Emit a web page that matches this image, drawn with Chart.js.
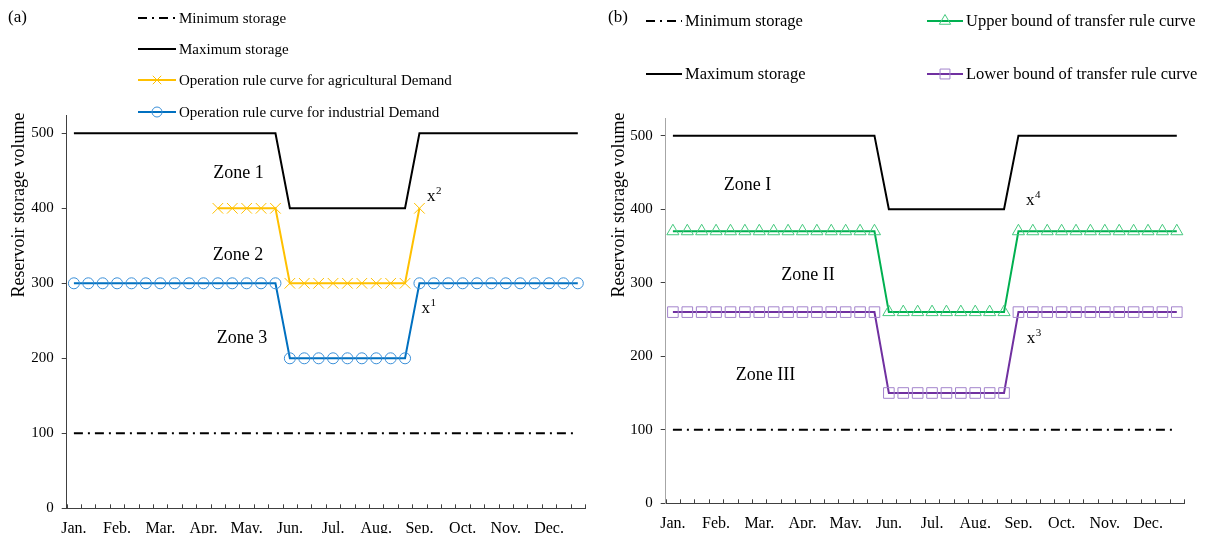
<!DOCTYPE html>
<html><head><meta charset="utf-8">
<script src="https://cdn.jsdelivr.net/npm/chart.js@4.4.0/dist/chart.umd.min.js"></script>
<style>
html,body{margin:0;padding:0;background:#fff;width:1210px;height:539px;overflow:hidden}
#wa{position:absolute;left:0;top:0;width:605px;height:539px}
#wb{position:absolute;left:605px;top:0;width:605px;height:539px}
canvas{display:block}
</style></head><body>
<div id="wa"><canvas id="ca" width="605" height="539"></canvas></div>
<div id="wb"><canvas id="cb" width="605" height="539"></canvas></div>
<script>
// ---- Data ----
const monthLabels = ['Jan.','Feb.','Mar.','Apr.','May.','Jun.','Jul.','Aug.','Sep.','Oct.','Nov.','Dec.'];
const decades = ['1','2','3'];
const categories = [];
monthLabels.forEach(m => decades.forEach(d => categories.push(m + ' ' + d)));
const yTickValues = [0,100,200,300,400,500];

const minStorage   = [100,100,100,100,100,100,100,100,100,100,100,100,100,100,100,100,100,100,100,100,100,100,100,100,100,100,100,100,100,100,100,100,100,100,100,100];
const maxStorage   = [500,500,500,500,500,500,500,500,500,500,500,500,500,500,500,400,400,400,400,400,400,400,400,400,500,500,500,500,500,500,500,500,500,500,500,500];
const agricultural = [null,null,null,null,null,null,null,null,null,null,400,400,400,400,400,300,300,300,300,300,300,300,300,300,400,null,null,null,null,null,null,null,null,null,null,null];
const industrial   = [300,300,300,300,300,300,300,300,300,300,300,300,300,300,300,200,200,200,200,200,200,200,200,200,300,300,300,300,300,300,300,300,300,300,300,300];
const upperBound   = [370,370,370,370,370,370,370,370,370,370,370,370,370,370,370,260,260,260,260,260,260,260,260,260,370,370,370,370,370,370,370,370,370,370,370,370];
const lowerBound   = [260,260,260,260,260,260,260,260,260,260,260,260,260,260,260,150,150,150,150,150,150,150,150,150,260,260,260,260,260,260,260,260,260,260,260,260];

const FONT = 'Liberation Serif';
Chart.defaults.font.family = FONT;
Chart.defaults.color = '#000';

const DASHDOT = [9,5,2,5];

function drawMarker(ctx, style, x, y, r, color) {
  ctx.save();
  ctx.strokeStyle = color; ctx.lineWidth = 1; ctx.setLineDash([]);
  ctx.beginPath();
  if (style === 'circle') { ctx.arc(x, y, r, 0, Math.PI*2); }
  else if (style === 'crossRot') { const s = r*Math.SQRT1_2; ctx.moveTo(x-s,y-s); ctx.lineTo(x+s,y+s); ctx.moveTo(x+s,y-s); ctx.lineTo(x-s,y+s); }
  else if (style === 'triangle') { ctx.moveTo(x, y-r); ctx.lineTo(x+0.866*r, y+r/2); ctx.lineTo(x-0.866*r, y+r/2); ctx.closePath(); }
  else if (style === 'rect') { const s = r*Math.SQRT1_2; ctx.rect(x-s, y-s, 2*s, 2*s); }
  ctx.stroke();
  ctx.restore();
}

const decorPlugin = {
  id: 'decor',
  afterDraw(chart, args, o) {
    const ctx = chart.ctx;
    const xs = chart.scales.x, ys = chart.scales.y;
    const ca = chart.chartArea;
    // inward x ticks at category boundaries
    ctx.save();
    ctx.strokeStyle = o.xTickColor; ctx.lineWidth = 1;
    ctx.beginPath();
    for (let i = 0; i <= categories.length; i++) {
      const x = Math.round(xs.getPixelForValue(i - 0.5)) + 0.5;
      ctx.moveTo(x, ca.bottom); ctx.lineTo(x, ca.bottom - 4);
    }
    ctx.stroke();
    ctx.restore();

    ctx.save();
    ctx.fillStyle = '#000';
    // panel label
    ctx.font = '17px "' + FONT + '"';
    ctx.textBaseline = 'middle'; ctx.textAlign = 'left';
    ctx.fillText(o.panel.text, o.panel.x, o.panel.y);
    // y title
    ctx.save();
    ctx.translate(o.yTitle.x, o.yTitle.y);
    ctx.rotate(-Math.PI/2);
    ctx.font = '18px "' + FONT + '"';
    ctx.textAlign = 'center'; ctx.textBaseline = 'alphabetic';
    ctx.fillText('Reservoir storage volume', 0, 0);
    ctx.restore();

    // legend
    o.legend.forEach(it => {
      ctx.save();
      ctx.strokeStyle = it.color; ctx.lineWidth = 2;
      ctx.setLineDash(it.dash || []);
      ctx.beginPath(); ctx.moveTo(it.x1, it.y); ctx.lineTo(it.x2, it.y); ctx.stroke();
      ctx.restore();
      if (it.marker) drawMarker(ctx, it.marker, (it.x1+it.x2)/2, it.y, it.r, it.mcolor);
      ctx.font = o.legendFont + 'px "' + FONT + '"';
      ctx.textAlign = 'left'; ctx.textBaseline = 'middle'; ctx.fillStyle = '#000';
      ctx.fillText(it.text, it.x2 + 3, it.y + 1);
    });

    // zone annotations
    o.zones.forEach(z => {
      ctx.font = '18px "' + FONT + '"';
      ctx.textAlign = 'center'; ctx.textBaseline = 'alphabetic';
      ctx.fillText(z.text, xs.getPixelForValue(z.idx), ys.getPixelForValue(z.val));
    });
    o.sups.forEach(s => {
      const px = xs.getPixelForValue(s.idx), py = ys.getPixelForValue(s.val);
      ctx.font = '17px "' + FONT + '"';
      ctx.textAlign = 'left'; ctx.textBaseline = 'alphabetic';
      ctx.fillText('x', px, py);
      const w = ctx.measureText('x').width;
      ctx.font = '11px "' + FONT + '"';
      ctx.fillText(s.sup, px + w + 0.5, py - 7);
    });
    ctx.restore();
  }
};

function lineDs(label, data, color, extra) {
  return Object.assign({
    label, data, borderColor: color, borderWidth: 2, tension: 0,
    pointRadius: 0, pointHoverRadius: 0, fill: false, spanGaps: false
  }, extra || {});
}

function makeOptions(pad, yBorderColor, decor) {
  return {
    responsive: false, animation: false, devicePixelRatio: 1,
    layout: { padding: pad },
    events: [],
    plugins: { legend: { display: false }, tooltip: { enabled: false }, decor },
    scales: {
      x: {
        type: 'category', offset: true,
        grid: { display: false, drawTicks: false },
        border: { display: true, color: '#404040', width: 1 },
        ticks: {
          autoSkip: false, maxRotation: 0, minRotation: 0, padding: 11,
          font: { family: FONT, size: 16 }, color: '#000',
          callback: (v, i) => (i % decades.length === 0 ? monthLabels[i / decades.length] : '')
        },
        afterFit: s => { s.height = 25; }
      },
      y: {
        min: 0, max: 524,
        grid: { display: true, drawOnChartArea: false, drawTicks: true, tickLength: 5, color: '#404040' },
        border: { display: true, color: yBorderColor, width: 1 },
        ticks: { stepSize: 100, padding: 8, font: { family: FONT, size: 15 }, color: '#000' },
        afterBuildTicks: s => { s.ticks = yTickValues.map(v => ({ value: v })); },
        afterFit: s => { s.width = 60; }
      }
    }
  };
}

new Chart(document.getElementById('ca'), {
  type: 'line',
  plugins: [decorPlugin],
  data: {
    labels: categories,
    datasets: [
      lineDs('Operation rule curve for industrial Demand', industrial, '#0070C0',
        { pointStyle: 'circle', pointRadius: 5.5, pointBorderWidth: 1, pointBorderColor: '#3A8FD8', pointBackgroundColor: 'rgba(0,0,0,0)' }),
      lineDs('Operation rule curve for agricultural Demand', agricultural, '#FFC000',
        { pointStyle: 'crossRot', pointRadius: 7.5, pointBorderWidth: 1, pointBorderColor: '#FFC000', pointBackgroundColor: 'rgba(0,0,0,0)' }),
      lineDs('Maximum storage', maxStorage, '#000'),
      lineDs('Minimum storage', minStorage, '#000', { borderDash: DASHDOT })
    ]
  },
  options: makeOptions({ left: 6.7, right: 20, top: 115.3, bottom: 5.7 }, '#404040', {
    xTickColor: '#404040',
    panel: { text: '(a)', x: 8, y: 18 },
    yTitle: { x: 24, y: 205 },
    legendFont: 15,
    legend: [
      { text: 'Minimum storage', x1: 138, x2: 176, y: 18, color: '#000', dash: DASHDOT },
      { text: 'Maximum storage', x1: 138, x2: 176, y: 49, color: '#000' },
      { text: 'Operation rule curve for agricultural Demand', x1: 138, x2: 176, y: 80, color: '#FFC000', marker: 'crossRot', r: 6, mcolor: '#FFC000' },
      { text: 'Operation rule curve for industrial Demand', x1: 138, x2: 176, y: 112, color: '#0070C0', marker: 'circle', r: 5, mcolor: '#3A8FD8' }
    ],
    zones: [
      { text: 'Zone 1', idx: 11.43, val: 441 },
      { text: 'Zone 2', idx: 11.4, val: 331 },
      { text: 'Zone 3', idx: 11.67, val: 221 }
    ],
    sups: [
      { sup: '2', idx: 24.52, val: 410 },
      { sup: '1', idx: 24.15, val: 260 }
    ]
  })
});

new Chart(document.getElementById('cb'), {
  type: 'line',
  plugins: [decorPlugin],
  data: {
    labels: categories,
    datasets: [
      lineDs('Lower bound of transfer rule curve', lowerBound, '#7030A0',
        { pointStyle: 'rect', pointRadius: 7.5, pointBorderWidth: 1, pointBorderColor: '#A384CC', pointBackgroundColor: 'rgba(0,0,0,0)' }),
      lineDs('Upper bound of transfer rule curve', upperBound, '#00B050',
        { pointStyle: 'triangle', pointRadius: 7, pointBorderWidth: 1, pointBorderColor: '#45C97E', pointBackgroundColor: 'rgba(0,0,0,0)' }),
      lineDs('Maximum storage', maxStorage, '#000'),
      lineDs('Minimum storage', minStorage, '#000', { borderDash: DASHDOT })
    ]
  },
  options: makeOptions({ left: 0.7, right: 26, top: 118, bottom: 10.7 }, '#A6A6A6', {
    xTickColor: '#404040',
    panel: { text: '(b)', x: 3, y: 18 },
    yTitle: { x: 19, y: 205 },
    legendFont: 16.5,
    legend: [
      { text: 'Minimum storage', x1: 41, x2: 77, y: 21, color: '#000', dash: DASHDOT },
      { text: 'Maximum storage', x1: 41, x2: 77, y: 74, color: '#000' },
      { text: 'Upper bound of transfer rule curve', x1: 322, x2: 358, y: 21, color: '#00B050', marker: 'triangle', r: 6.5, mcolor: '#45C97E' },
      { text: 'Lower bound of transfer rule curve', x1: 322, x2: 358, y: 74, color: '#7030A0', marker: 'rect', r: 7, mcolor: '#A384CC' }
    ],
    zones: [
      { text: 'Zone I', idx: 5.18, val: 426 },
      { text: 'Zone II', idx: 9.38, val: 304 },
      { text: 'Zone III', idx: 6.43, val: 168 }
    ],
    sups: [
      { sup: '4', idx: 24.52, val: 406 },
      { sup: '3', idx: 24.57, val: 218 }
    ]
  })
});
</script>
</body></html>
